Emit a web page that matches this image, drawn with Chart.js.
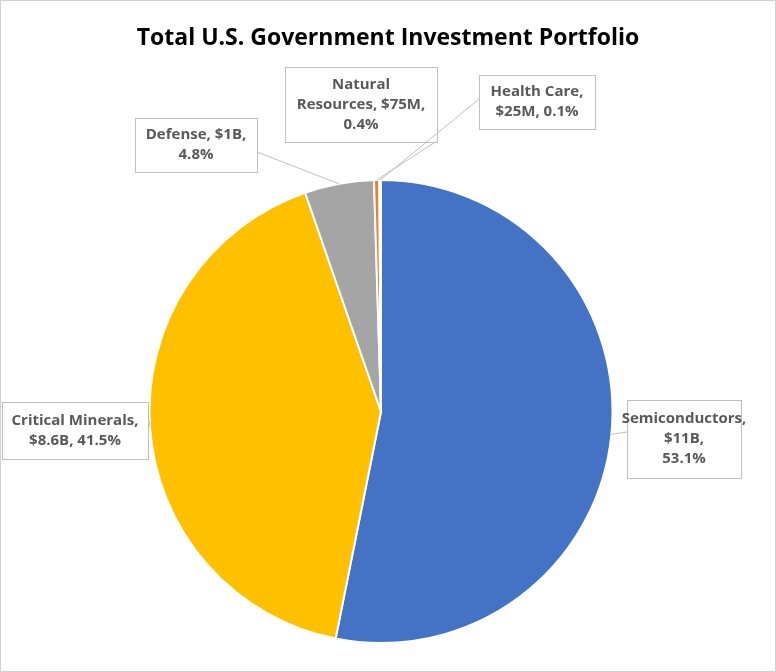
<!DOCTYPE html>
<html>
<head>
<meta charset="utf-8">
<script src="https://cdn.jsdelivr.net/npm/chart.js@4.4.0/dist/chart.umd.min.js"></script>
<style>
  html, body { margin: 0; padding: 0; background: #fff; }
  #wrap { width: 774px; height: 670px; border: 1px solid #d0d0d0; position: relative; }
</style>
</head>
<body>
<div id="wrap"><canvas id="grafico" width="774" height="670"></canvas></div>
<script>
// datos del portafolio (miles de millones USD)
const sectores = ["Semiconductors", "Critical Minerals", "Defense", "Natural Resources", "Health Care"];
const montos = [11, 8.6, 1, 0.075, 0.025];
const montosTexto = ["$11B", "$8.6B", "$1B", "$75M", "$25M"];
const colores = ["#4472C4", "#FFC000", "#A5A5A5", "#ED7D31", "#5B9BD5"];

const total = montos.reduce((a, v) => a + v, 0);
const porcentajes = montos.map(v => (v / total * 100).toFixed(1) + "%");

// cajas de etiquetas: [x, y, ancho, alto, lineas, punto de anclaje en la caja]
const cajas = [
  { x: 626, y: 399, w: 114, h: 78, lineas: [sectores[0] + ",", montosTexto[0] + ",", porcentajes[0]], ax: 626, ay: 431 },
  { x: 1, y: 401, w: 146, h: 57, lineas: [sectores[1] + ",", montosTexto[1] + ", " + porcentajes[1]], ax: 147, ay: 414 },
  { x: 134, y: 117, w: 122, h: 54, lineas: [sectores[2] + ", " + montosTexto[2] + ",", porcentajes[2]], ax: 256, ay: 151 },
  { x: 284, y: 66, w: 152, h: 75, lineas: ["Natural", "Resources, " + montosTexto[3] + ",", porcentajes[3]], ax: 436, ay: 140 },
  { x: 478, y: 74, w: 116, h: 54, lineas: [sectores[4] + ",", montosTexto[4] + ", " + porcentajes[4]], ax: 478, ay: 98 }
];

const etiquetasPlugin = {
  id: "etiquetas",
  afterDraw(chart) {
    const ctx = chart.ctx;
    const arcos = chart.getDatasetMeta(0).data;
    ctx.save();
    // titulo
    ctx.fillStyle = "#000";
    ctx.font = "bold 23px 'Open Sans', sans-serif";
    ctx.textAlign = "center";
    ctx.textBaseline = "middle";
    ctx.fillText("Total U.S. Government Investment Portfolio", 387, 37);

    cajas.forEach((c, i) => {
      const a = arcos[i];
      const p = a.getProps(["x", "y", "startAngle", "endAngle", "outerRadius"], true);
      const mid = (p.startAngle + p.endAngle) / 2;
      const ex = p.x + Math.cos(mid) * p.outerRadius;
      const ey = p.y + Math.sin(mid) * p.outerRadius;
      ctx.strokeStyle = "#BFBFBF";
      ctx.lineWidth = 1;
      ctx.beginPath();
      ctx.moveTo(c.ax, c.ay);
      ctx.lineTo(ex, ey);
      ctx.stroke();
      ctx.fillStyle = "#fff";
      ctx.fillRect(c.x, c.y, c.w, c.h);
      ctx.strokeRect(c.x + 0.5, c.y + 0.5, c.w, c.h);
      ctx.fillStyle = "#595959";
      ctx.font = "bold 15px 'Open Sans', sans-serif";
      const alto = 20;
      const y0 = c.y + c.h / 2 - (c.lineas.length - 1) * alto / 2;
      c.lineas.forEach((l, k) => ctx.fillText(l, c.x + c.w / 2, y0 + k * alto));
    });
    ctx.restore();
  }
};

new Chart(document.getElementById("grafico"), {
  type: "pie",
  data: {
    labels: sectores,
    datasets: [{
      data: montos,
      backgroundColor: colores,
      borderColor: "#fff",
      borderWidth: 2
    }]
  },
  options: {
    responsive: false,
    animation: false,
    layout: { padding: { top: 178, bottom: 27, left: 0, right: 14 } },
    plugins: {
      legend: { display: false },
      title: { display: false },
      tooltip: { enabled: false }
    }
  },
  plugins: [etiquetasPlugin]
});
</script>
</body>
</html>
